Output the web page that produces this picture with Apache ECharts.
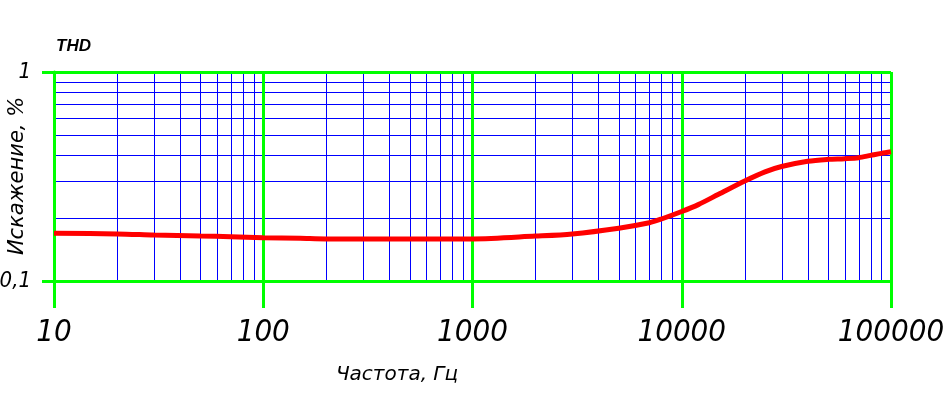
<!DOCTYPE html>
<html><head><meta charset="utf-8">
<script src="https://cdn.jsdelivr.net/npm/echarts@6/dist/echarts.min.js"></script>
<style>html,body{margin:0;padding:0;background:#fff}#c{width:945px;height:393px}</style>
</head><body><div id="c"></div>
<script>
const freqs = [10, 20, 30, 50, 70, 100, 150, 200, 300, 500, 1000, 2000, 3000, 5000, 7000, 8000, 10000, 12000, 15000, 20000, 25000, 30000, 40000, 50000, 60000, 70000, 80000, 90000, 100000];
const thd   = [0.169, 0.168, 0.166, 0.164, 0.163, 0.161, 0.160, 0.159, 0.159, 0.159, 0.159, 0.164, 0.168, 0.179, 0.190, 0.198, 0.215, 0.232, 0.260, 0.301, 0.333, 0.353, 0.374, 0.382, 0.385, 0.389, 0.399, 0.408, 0.415];
const xMinor = [20,30,40,50,60,70,80,90, 200,300,400,500,600,700,800,900, 2000,3000,4000,5000,6000,7000,8000,9000, 20000,30000,40000,50000,60000,70000,80000,90000];
const yMinor = [0.2,0.3,0.4,0.5,0.6,0.7,0.8,0.9];
const xTickLabels = ['10','100','1000','10000','100000'];
const yTickLabels = ['0,1','1'];
const title = 'THD';
const xName = 'Частота, Гц';
const yName = 'Искажение, %';

const chart = echarts.init(document.getElementById('c'));
const GREEN = '#00ff00', BLUE = '#0000ff', RED = '#ff0000';
const narrow = '"DejaVu Sans Condensed","Liberation Sans Narrow","Liberation Sans",sans-serif';
const X0 = 10, X1 = 100000, Y0 = 0.1, Y1 = 1;
const snap = v => Math.round(v) + 0.5;

function minorRender(isX) {
  return function (params, api) {
    const v = api.value(0);
    let p0, p1;
    if (isX) { p0 = api.coord([v, Y0]); p1 = api.coord([v, Y1]); const x = snap(p0[0]); p0[0] = x; p1[0] = x; }
    else { p0 = api.coord([X0, v]); p1 = api.coord([X1, v]); const y = snap(p0[1]); p0[1] = y; p1[1] = y; }
    return {type: 'line', shape: {x1: p0[0], y1: p0[1], x2: p1[0], y2: p1[1]},
      style: {stroke: BLUE, lineWidth: 1}, silent: true};
  };
}

chart.setOption({
  animation: false,
  grid: {left: 54, right: 54, top: 72, bottom: 112, outerBoundsMode: 'none', containLabel: false},
  xAxis: {
    type: 'log', logBase: 10, min: X0, max: X1, interval: 1, z: 5,
    axisLine: {show: true, lineStyle: {color: GREEN, width: 3}},
    axisTick: {show: true, length: 27, lineStyle: {color: GREEN, width: 3}},
    splitLine: {show: true, lineStyle: {color: GREEN, width: 3}},
    minorTick: {show: false}, minorSplitLine: {show: false},
    axisLabel: {
      margin: 36, color: '#000', fontSize: 31, fontStyle: 'italic', fontFamily: narrow,
      formatter: v => xTickLabels[Math.round(Math.log10(v)) - 1]
    }
  },
  yAxis: {
    type: 'log', logBase: 10, min: Y0, max: Y1, interval: 1, z: 5,
    axisLine: {show: true, lineStyle: {color: GREEN, width: 3}},
    axisTick: {show: true, length: 12, lineStyle: {color: GREEN, width: 3}},
    splitLine: {show: true, lineStyle: {color: GREEN, width: 3}},
    axisLabel: {
      margin: 23, color: '#000', fontSize: 22, fontStyle: 'italic', fontFamily: narrow,
      formatter: v => (v > 0.5 ? yTickLabels[1] : yTickLabels[0])
    }
  },
  graphic: [
    {type: 'text', x: 56, y: 46, style: {text: title, font: 'italic bold 17px "Liberation Sans", Arial, sans-serif', fill: '#000', textAlign: 'left', textVerticalAlign: 'middle'}},
    {type: 'text', x: 397, y: 375, style: {text: xName, font: 'italic 20px "DejaVu Sans", sans-serif', fill: '#000', textAlign: 'center', textVerticalAlign: 'middle'}},
    {type: 'text', x: 18, y: 176, rotation: Math.PI / 2, style: {text: yName, font: 'italic 21px "DejaVu Sans", sans-serif', fill: '#000', textAlign: 'center', textVerticalAlign: 'middle'}}
  ],
  series: [
    {type: 'custom', z: 1, silent: true, data: xMinor.map(v => [v]), renderItem: minorRender(true), encode: {x: 0}},
    {type: 'custom', z: 1, silent: true, data: yMinor.map(v => [v]), renderItem: minorRender(false), encode: {y: 0}},
    {
      type: 'line', z: 10, data: freqs.map((f, i) => [f, thd[i]]),
      showSymbol: false, smooth: 0.3,
      lineStyle: {color: RED, width: 5}
    }
  ]
});
</script></body></html>
